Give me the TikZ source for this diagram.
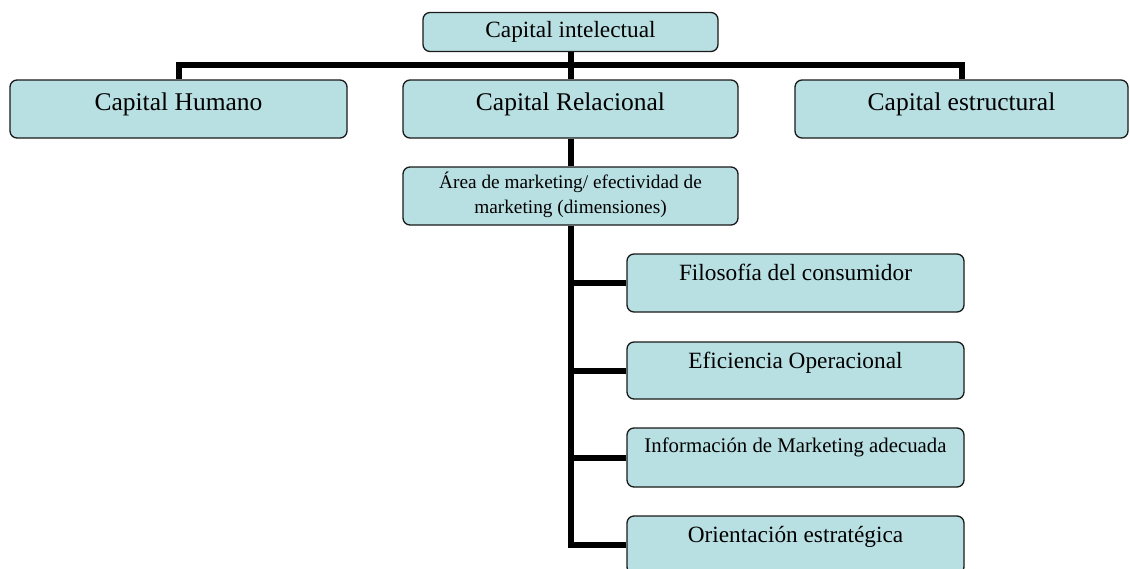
\documentclass[tikz,border=0pt]{standalone}
\usepackage{fontspec}
\setmainfont{Liberation Serif}
\definecolor{boxfill}{HTML}{B8DFE2}
\definecolor{boxline}{HTML}{1A1A1A}
\begin{document}
\begin{tikzpicture}[x=1pt,y=-1pt,
  box/.style={draw=boxline,line width=1.3pt,fill=boxfill,rounded corners=7pt,inner sep=0pt,minimum width=#1},
  box/.default=337pt,
  conn/.style={line width=6pt,black},
  big/.style={font=\fontsize{25.5}{30}\selectfont,anchor=base,inner sep=0pt},
  mid/.style={font=\fontsize{23.3}{28}\selectfont,anchor=base,inner sep=0pt},
  small/.style={font=\fontsize{20.8}{25}\selectfont,anchor=base,inner sep=0pt},
  area/.style={font=\fontsize{19.3}{24}\selectfont,anchor=base,inner sep=0pt}]
\useasboundingbox (0,0) rectangle (1130,568);
\clip (0,0) rectangle (1130,568);
% boxes
\node[box=295pt,minimum height=39pt] (ci) at (570.5,32) {};
\node[box,minimum height=58pt] (ch) at (178.5,109) {};
\node[box=335pt,minimum height=58pt] (cr) at (570.5,109) {};
\node[box=333pt,minimum height=58pt] (ce) at (961.5,109) {};
\node[box=335pt,minimum height=58pt] (ar) at (570.5,196) {};
\node[box,minimum height=58pt] (fi) at (795.5,283) {};
\node[box,minimum height=57pt] (ef) at (795.5,370.5) {};
\node[box,minimum height=59pt] (in) at (795.5,457.5) {};
\node[box,minimum height=58pt] (or) at (795.5,545) {};
% texts
\node[mid] (tci) at (570.5,37) {Capital intelectual};
\node[big] (tch) at (178.5,110) {Capital Humano};
\node[big] (tcr) at (570.5,110) {Capital Relacional};
\node[big] (tce) at (961.5,110) {Capital estructural};
\node[area] (tar1) at (570.5,188) {Área de marketing/ efectividad de};
\node[area] (tar2) at (570.5,213) {marketing (dimensiones)};
\node[mid] (tfi) at (795.5,280) {Filosofía del consumidor};
\node[mid] (tef) at (795.5,368) {Eficiencia Operacional};
\node[small] (tin) at (795.5,452) {Información de Marketing adecuada};
\node[mid] (tor) at (795.5,542) {Orientación estratégica};
% connectors
\coordinate (bar) at (0,65);
\draw[conn] (ci.south) -- (cr.north);
\draw[conn] (ch.north) -- (ch.north |- bar) -- (ce.north |- bar) -- (ce.north);
\draw[conn] (cr.south) -- (ar.north);
\draw[conn] (ar.south) |- (or.west);
\draw[conn] (fi.west) -- (fi.west -| ar.south);
\draw[conn] (ef.west) -- (ef.west -| ar.south);
\draw[conn] (in.west) -- (in.west -| ar.south);
\end{tikzpicture}
\end{document}
